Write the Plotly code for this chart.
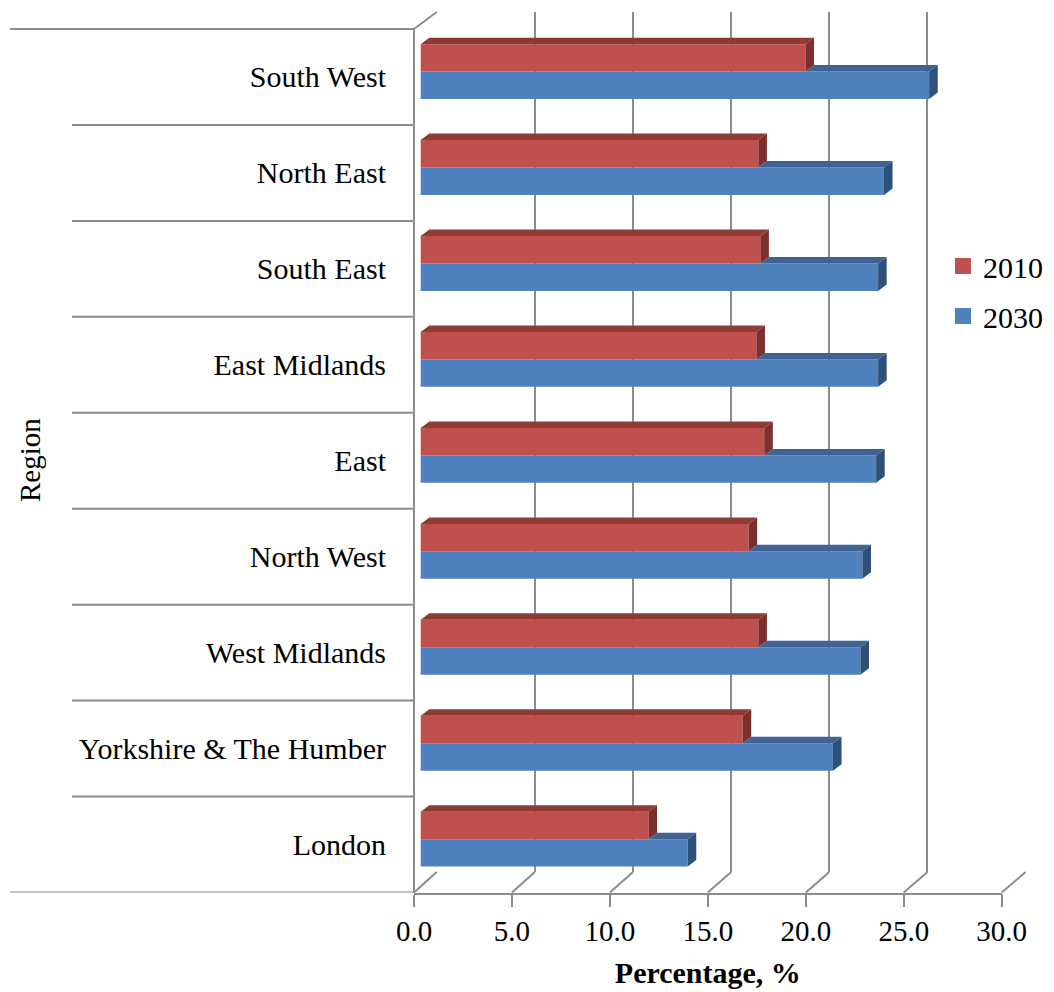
import plotly.graph_objects as go

# Share of population by region, 2010 vs projected 2030 (%)
regions = ["London", "Yorkshire & The Humber", "West Midlands", "North West", "East",
           "East Midlands", "South East", "North East", "South West"]
pct_2010 = [11.6, 16.4, 17.2, 16.7, 17.5, 17.1, 17.3, 17.2, 19.6]
pct_2030 = [13.6, 21.0, 22.4, 22.5, 23.2, 23.3, 23.3, 23.6, 25.9]
x_ticks = [0, 5, 10, 15, 20, 25, 30]
series_names = ["2010", "2030"]

W, H = 1054, 992
FONT = "Liberation Serif"
GRID = "#8C8C8C"
RED, RED_TOP, RED_SIDE = "#C0504D", "#903A38", "#7E2F2D"
BLUE, BLUE_TOP, BLUE_SIDE = "#4F81BD", "#3D6492", "#2F5079"


def fx(p):
    return p / W


def fy(p):
    return 1 - p / H


# pseudo-3D box: front plane and back wall (pixel geometry)
FRONT_L, FRONT_R, FRONT_BOTTOM, FRONT_TOP = 414.0, 1001.7, 892.5, 29.0
BACK_L, BACK_R, BACK_BOTTOM, BACK_TOP = 436.7, 1025.6, 872.0, 12.0
X_MAX = 30.0

n = len(regions)
band = (FRONT_BOTTOM - FRONT_TOP) / n          # px per category band
bar_px = 19.63                                 # px per percentage point
bar_origin = 420.7                             # px where the bar front faces start
bars_left, bars_right = FRONT_L, 1030.0
bx0 = -(bar_origin - bars_left) / bar_px
bx1 = bx0 + (bars_right - bars_left) / bar_px
by1 = (FRONT_BOTTOM - BACK_TOP) / band

# bar layout inside a band (fractions of a band) and extrusion depth
LO, MID, HI = 0.27, 0.556, 0.842
DX = 8.6 / bar_px
DY = 6.5 / band

fig = go.Figure()

# back-wall gridlines subplot
fig.add_trace(go.Scatter(x=[None], y=[None], xaxis="x", yaxis="y",
                         showlegend=False, hoverinfo="skip"))

# legend entries
for name, col in zip(series_names, [RED, BLUE]):
    fig.add_trace(go.Scatter(x=[None], y=[None], xaxis="x2", yaxis="y2", mode="markers",
                             name=name, legendgroup=name,
                             marker=dict(symbol="square", size=16, color=col)))

# bar front faces
y_blue = [i + (LO + MID) / 2 for i in range(n)]
y_red = [i + (MID + HI) / 2 for i in range(n)]
fig.add_trace(go.Bar(x=pct_2030, y=y_blue, orientation="h", width=MID - LO,
                     marker=dict(color=BLUE, line=dict(width=0)), xaxis="x3", yaxis="y3",
                     showlegend=False, name="2030", hoverinfo="x"))
fig.add_trace(go.Bar(x=pct_2010, y=y_red, orientation="h", width=HI - MID,
                     marker=dict(color=RED, line=dict(width=0)), xaxis="x3", yaxis="y3",
                     showlegend=False, name="2010", hoverinfo="x"))

shapes = []
line = dict(color=GRID, width=2)


def poly(pts, color):
    d = "M " + " L ".join(f"{x},{y}" for x, y in pts) + " Z"
    return dict(type="path", path=d, xref="x3", yref="y3", fillcolor=color,
                line=dict(width=0), layer="above")


# extruded top and side faces of the bars
for i, (vr, vb) in enumerate(zip(pct_2010, pct_2030)):
    y0, ym, y1 = i + LO, i + MID, i + HI
    if vb > vr:
        shapes.append(poly([(vr, ym), (vb, ym), (vb + DX, ym + DY), (vr + DX, ym + DY)], BLUE_TOP))
    shapes.append(poly([(vb, y0), (vb, ym), (vb + DX, ym + DY), (vb + DX, y0 + DY)], BLUE_SIDE))
    shapes.append(poly([(0, y1), (vr, y1), (vr + DX, y1 + DY), (DX, y1 + DY)], RED_TOP))
    shapes.append(poly([(vr, ym), (vr, y1), (vr + DX, y1 + DY), (vr + DX, ym + DY)], RED_SIDE))

# category separators to the left of the wall
for k in range(n + 1):
    left = 10 if k in (0, n) else 72
    shapes.append(dict(type="line", xref="paper", yref="y3", x0=fx(left), x1=fx(FRONT_L),
                       y0=k, y1=k, line=line, layer="below"))

# left wall: front edge and top edge
shapes.append(dict(type="line", xref="paper", yref="paper", x0=fx(FRONT_L), x1=fx(FRONT_L),
                   y0=fy(FRONT_TOP), y1=fy(FRONT_BOTTOM), line=line, layer="below"))
shapes.append(dict(type="line", xref="paper", yref="paper", x0=fx(FRONT_L), x1=fx(BACK_L),
                   y0=fy(FRONT_TOP), y1=fy(BACK_TOP), line=line, layer="below"))

# floor: diagonals joining front ticks to back gridlines
for t in x_ticks:
    xf = FRONT_L + (FRONT_R - FRONT_L) * t / X_MAX
    xb = BACK_L + (BACK_R - BACK_L) * t / X_MAX
    shapes.append(dict(type="line", xref="paper", yref="paper", x0=fx(xf), x1=fx(xb),
                       y0=fy(FRONT_BOTTOM), y1=fy(BACK_BOTTOM), line=line, layer="below"))

tick_font = dict(family=FONT, size=29, color="black")
label_font = dict(family=FONT, size=30, color="black")

fig.update_layout(
    width=W, height=H,
    margin=dict(l=0, r=0, t=0, b=0, autoexpand=False),
    paper_bgcolor="white", plot_bgcolor="rgba(0,0,0,0)",
    shapes=shapes,
    barmode="overlay",
    showlegend=True,
    legend=dict(x=fx(943), y=fy(240), xanchor="left", yanchor="top",
                font=label_font, tracegroupgap=8, bgcolor="rgba(0,0,0,0)"),
    # back wall gridlines
    xaxis=dict(domain=[fx(BACK_L), fx(BACK_R)], range=[-0.01, X_MAX + 0.01], anchor="y",
               tickvals=x_ticks, showgrid=True, gridcolor=GRID, gridwidth=2,
               showticklabels=False, ticks="", zeroline=False, showline=False, fixedrange=True),
    yaxis=dict(domain=[fy(BACK_BOTTOM), fy(BACK_TOP)], range=[0, 1], anchor="x",
               visible=False, fixedrange=True),
    # front value axis (floor edge)
    xaxis2=dict(domain=[fx(FRONT_L), fx(FRONT_R)], range=[0, X_MAX], anchor="y2",
                tickvals=x_ticks, tickformat=".1f", ticks="outside", ticklen=12, tickwidth=2,
                tickcolor=GRID, showline=True, linecolor=GRID, linewidth=2, showgrid=False,
                zeroline=False, tickfont=tick_font, fixedrange=True,
                title=dict(text="<b>Percentage, %</b>", font=dict(family=FONT, size=30, color="black"),
                           standoff=16)),
    yaxis2=dict(domain=[fy(FRONT_BOTTOM), fy(BACK_TOP)], range=[0, 1], anchor="x2",
                visible=False, fixedrange=True),
    # bars and region labels
    xaxis3=dict(domain=[fx(bars_left), fx(bars_right)], range=[bx0, bx1], anchor="y3",
                visible=False, fixedrange=True),
    yaxis3=dict(domain=[fy(FRONT_BOTTOM), fy(BACK_TOP)], range=[0, by1], anchor="x3",
                tickvals=[i + 0.5 for i in range(n)], ticktext=regions, ticks="",
                ticklabelstandoff=27, tickfont=label_font, showgrid=False, zeroline=False,
                showline=False, fixedrange=True),
    annotations=[dict(text="Region", x=fx(30), y=fy(460), xref="paper", yref="paper",
                      textangle=-90, showarrow=False, font=tick_font,
                      xanchor="center", yanchor="middle")],
)

fig.write_html("out.html")
